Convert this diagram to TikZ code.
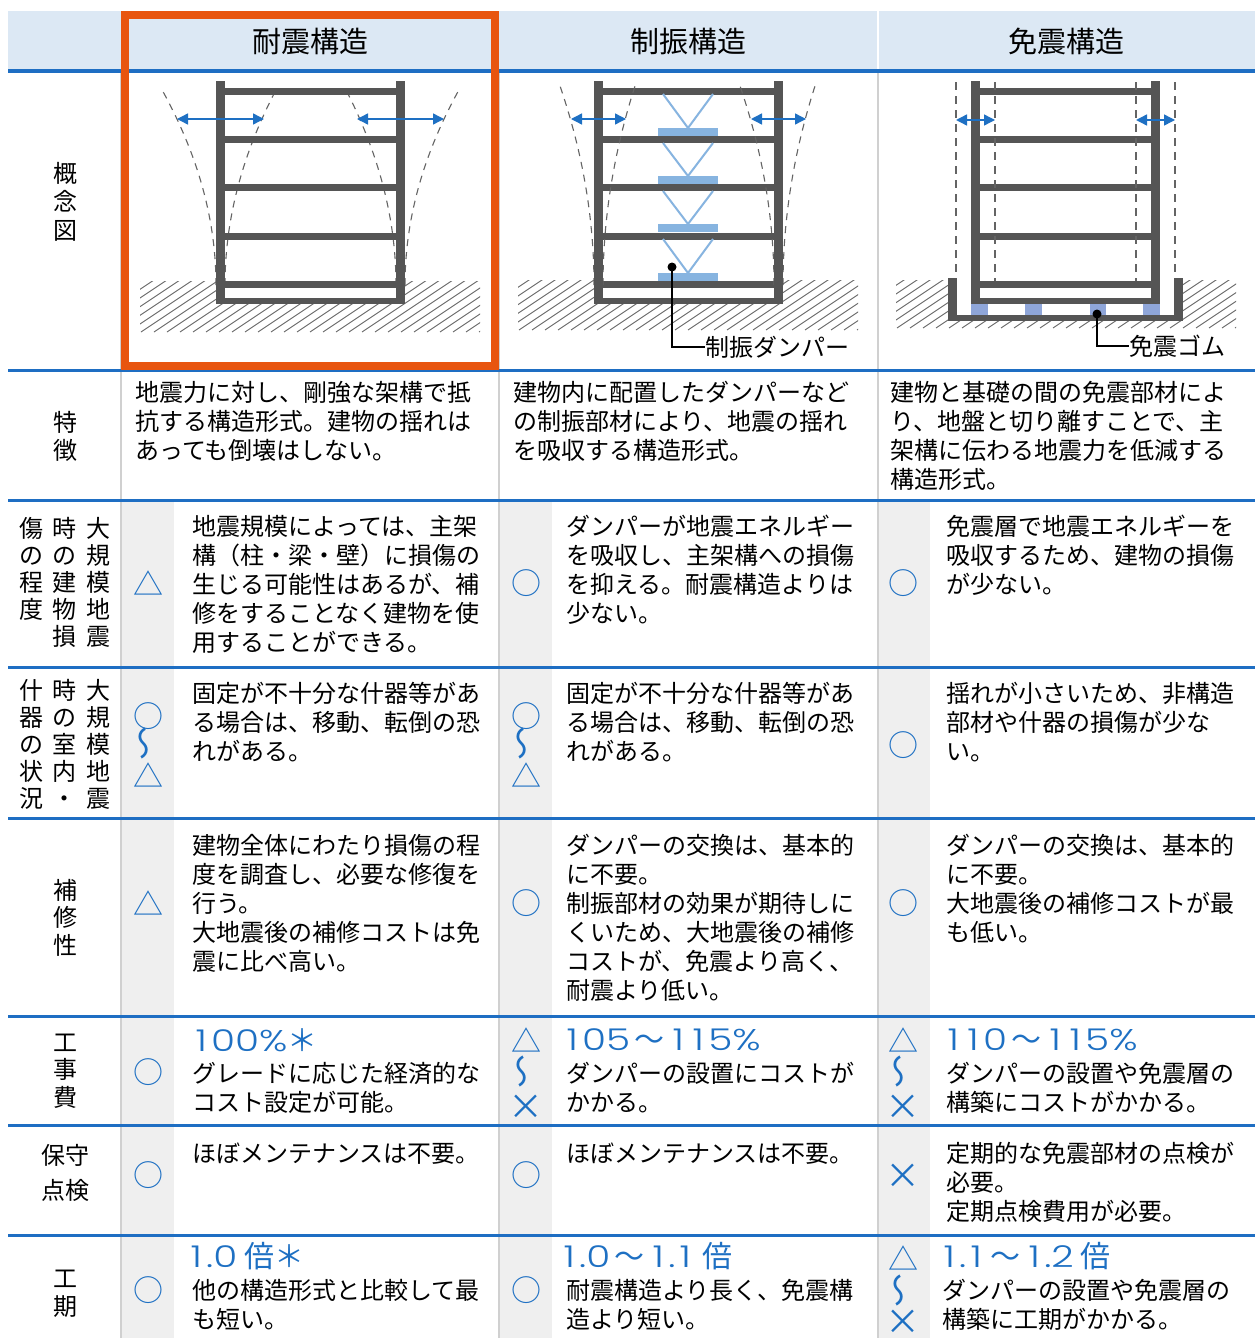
\documentclass[tikz,border=0pt]{standalone}
\usepackage{fontspec}
\setmainfont{Noto Sans CJK JP}
\IfFontExistsTF{Poppins Light}{\newfontfamily\numfont{Poppins Light}[Numbers=Monospaced,FakeStretch=1.3]}{\newfontfamily\numfont{Poppins}[Numbers=Monospaced,FakeStretch=1.3]}
\usetikzlibrary{arrows.meta}
\definecolor{hdr}{RGB}{220,232,244}
\definecolor{rulec}{RGB}{30,110,195}
\definecolor{symb}{RGB}{30,112,195}
\definecolor{graycol}{RGB}{239,239,239}
\definecolor{sepc}{RGB}{208,208,208}
\definecolor{framec}{RGB}{85,85,85}
\definecolor{damp}{RGB}{135,180,224}
\definecolor{rubber}{RGB}{143,166,217}
\definecolor{orng}{RGB}{232,85,15}
\definecolor{dashc}{RGB}{100,100,100}
\newcommand\st{\rule{0pt}{21pt}}
\newcommand\one{\makebox[20pt][c]{1}}
\newcommand\wv{\makebox[38pt][c]{～}}
\begin{document}
\begin{tikzpicture}[x=1pt,y=-1pt,
  body/.style={anchor=north west,inner sep=0pt,align=left,font=\fontsize{24}{29}\selectfont},
  lab/.style={anchor=north,inner sep=0pt,align=center,font=\fontsize{24}{27.5}\selectfont},
  symtxt/.style={inner sep=0pt,text=symb,font=\fontsize{30}{30}\selectfont},
  crosstxt/.style={inner sep=0pt,text=symb,font=\fontsize{35}{35}\selectfont},
  wavtxt/.style={inner sep=0pt,text=symb,font=\fontsize{34}{34}\selectfont,rotate=-90,yscale=-1},
  bigtxt/.style={anchor=west,inner sep=0pt,text=symb,font=\fontsize{30}{30}\selectfont},
  hdtxt/.style={inner sep=0pt,font=\fontsize{29}{29}\selectfont},
  leadtxt/.style={anchor=west,inner sep=0pt,font=\fontsize{24}{24}\selectfont},
  beamfill/.style={fill=framec},
  hatchln/.style={draw=dashc,line width=0.9pt},
  defl/.style={draw=dashc,line width=1.1pt,dash pattern=on 7pt off 6pt},
  swing/.style={draw=symb,line width=1.4pt,{Triangle[length=11pt,width=11pt]}-{Triangle[length=11pt,width=11pt]}},
  dbrace/.style={draw=damp,line width=2pt},
  leader/.style={draw=black,line width=1.1pt},
  rulel/.style={draw=rulec,line width=3pt},
  sepl/.style={draw=sepc,line width=2.5pt}
]
\useasboundingbox (0,0) rectangle (1255,1338);
\fill[white] (0,0) rectangle (1255,1338);
% header
\fill[hdr] (8,11) rectangle (1255,71);
\draw[white,line width=2pt] (878,11) -- (878,71);
% gray symbol columns
\fill[graycol] (121,500) rectangle (174,1338);
\fill[graycol] (499,500) rectangle (552,1338);
\fill[graycol] (878,500) rectangle (930,1338);
% separators
\draw[sepl] (121,71) -- (121,1338);
\draw[sepl] (499,71) -- (499,1338);
\draw[sepl] (878,71) -- (878,1338);
% blue rules
\foreach \yy in {71,370,500,667,818,1016,1125,1235} {\draw[rulel] (8,\yy) -- (1255,\yy);}

% ---------- hatching ----------
\begin{scope}
\clip (140,281) rectangle (480,332);
\foreach \k in {0,...,34} {\draw[hatchln] ({50+13*\k},332) -- ++(90,-60);}
\end{scope}
\begin{scope}
\clip (518,280) rectangle (858,330);
\foreach \k in {0,...,34} {\draw[hatchln] ({428+13*\k},330) -- ++(90,-60);}
\end{scope}
\begin{scope}
\clip (896,280) rectangle (1236,328);
\foreach \k in {0,...,34} {\draw[hatchln] ({806+13*\k},328) -- ++(90,-60);}
\end{scope}
\fill[white] (216,279) rectangle (405,304);
\fill[white] (594,279) rectangle (783,304);
\fill[white] (957,276) rectangle (1174,315);

% ---------- column 1: 耐震 ----------
\draw[defl] (216,285) .. controls (216,219.3) and (197.7,153.7) .. (161,88);
\draw[defl] (225,285) .. controls (225,219.3) and (242.3,153.7) .. (277,88);
\draw[defl] (396,285) .. controls (396,219.3) and (379,153.7) .. (345,88);
\draw[defl] (405,285) .. controls (405,219.3) and (423.3,153.7) .. (460,88);
\foreach \ox in {0,378,755} {
  \begin{scope}[xshift=\ox pt]
  \fill[beamfill] (216,81) rectangle (225,304);
  \fill[beamfill] (396,81) rectangle (405,304);
  \foreach \by in {88,136,184,233,281} {\fill[beamfill] (225,\by) rectangle (396,\by+6.8);}
  \fill[beamfill] (216,298) rectangle (405,304);
  \end{scope}
}
\coordinate (a1l) at (177,119); \coordinate (a1r) at (264,119);
\coordinate (a2l) at (357,119); \coordinate (a2r) at (444,119);
\draw[swing] (a1l) -- (a1r);
\draw[swing] (a2l) -- (a2r);

% ---------- column 2: 制振 ----------
\draw[defl] (594,285) .. controls (594,218.7) and (582.7,152.3) .. (560,86);
\draw[defl] (603,285) .. controls (603,218.7) and (613.7,152.3) .. (635,86);
\draw[defl] (774,285) .. controls (774,218.7) and (762.7,152.3) .. (740,86);
\draw[defl] (783,285) .. controls (783,218.7) and (793.7,152.3) .. (815,86);
\fill[beamfill] (594,81) rectangle (603,304);
\fill[beamfill] (774,81) rectangle (783,304);
\foreach \tb/\dt in {94/128,143/176,191/224,239/273} {
  \draw[dbrace] (663,\tb) -- (688,\dt) -- (713,\tb);
  \fill[damp] (658,\dt) rectangle (718,\dt+8);
}
\coordinate (b1l) at (571,119); \coordinate (b1r) at (626,119);
\coordinate (b2l) at (751,119); \coordinate (b2r) at (806,119);
\draw[swing] (b1l) -- (b1r);
\draw[swing] (b2l) -- (b2r);
\coordinate (dm) at (672,267);
\node[leadtxt] (dlab) at (705,347) {制振ダンパー};
\draw[leader] (dm) |- (dlab.west);
\fill[black] (dm) circle (4.5);

% ---------- column 3: 免震 ----------
\foreach \bx/\ex in {971/988,1025/1042,1090/1106,1143/1160} {\fill[rubber] (\bx,304) rectangle (\ex,315);}
\fill[beamfill] (948,278) rectangle (957,321);
\fill[beamfill] (1174,278) rectangle (1183,321);
\fill[beamfill] (948,315) rectangle (1183,321);
\draw[defl,dash pattern=on 8pt off 6pt] (956,82) -- (956,278);
\draw[defl,dash pattern=on 8pt off 6pt] (995,82) -- (995,281);
\draw[defl,dash pattern=on 8pt off 6pt] (1136,82) -- (1136,281);
\draw[defl,dash pattern=on 8pt off 6pt] (1175,82) -- (1175,278);
\coordinate (c1l) at (956,120); \coordinate (c1r) at (995,120);
\coordinate (c2l) at (1136,120); \coordinate (c2r) at (1175,120);
\draw[swing] (c1l) -- (c1r);
\draw[swing] (c2l) -- (c2r);
\coordinate (gm) at (1097,314);
\node[leadtxt] (glab) at (1129,346) {免震ゴム};
\draw[leader] (gm) |- (glab.west);
\fill[black] (gm) circle (4.5);

% orange highlight
\draw[orng,line width=8pt] (125,15) rectangle (495,366);

% ---------- header texts ----------
\node[hdtxt] (h1) at (310,41) {耐震構造};
\node[hdtxt] (h2) at (688,41) {制振構造};
\node[hdtxt] (h3) at (1066,41) {免震構造};

% ---------- row labels ----------
\node[lab,font=\fontsize{24}{28.5}\selectfont] (l1) at (65,161) {\st 概\\念\\図};
\node[lab,font=\fontsize{24}{28}\selectfont] (l2) at (65,410) {\st 特\\徴};
\node[lab,font=\fontsize{24}{27}\selectfont] (l3a) at (98,516) {\st 大\\規\\模\\地\\震};
\node[lab,font=\fontsize{24}{27}\selectfont] (l3b) at (64,516) {\st 時\\の\\建\\物\\損};
\node[lab,font=\fontsize{24}{27}\selectfont] (l3c) at (31,516) {\st 傷\\の\\程\\度};
\node[lab,font=\fontsize{24}{27}\selectfont] (l4a) at (98,678) {\st 大\\規\\模\\地\\震};
\node[lab,font=\fontsize{24}{27}\selectfont] (l4b) at (64,678) {\st 時\\の\\室\\内\\・};
\node[lab,font=\fontsize{24}{27}\selectfont] (l4c) at (31,678) {\st 什\\器\\の\\状\\況};
\node[lab] (l5) at (65,878) {\st 補\\修\\性};
\node[lab] (l6) at (65,1030) {\st 工\\事\\費};
\node[lab,font=\fontsize{24}{35}\selectfont] (l7) at (65,1143) {\st 保守\\点検};
\node[lab,font=\fontsize{24}{28}\selectfont] (l8) at (65,1266) {\st 工\\期};

% ---------- 特徴 ----------
\node[body] (f1) at (135,380) {\st 地震力に対し、剛強な架構で抵\\抗する構造形式。建物の揺れは\\あっても倒壊はしない。};
\node[body] (f2) at (513,380) {\st 建物内に配置したダンパーなど\\の制振部材により、地震の揺れ\\を吸収する構造形式。};
\node[body] (f3) at (890,380) {\st 建物と基礎の間の免震部材によ\\り、地盤と切り離すことで、主\\架構に伝わる地震力を低減する\\構造形式。};

% ---------- 損傷 ----------
\node[symtxt] (y31) at (148,583) {△};
\node[symtxt] (y32) at (526,583) {○};
\node[symtxt] (y33) at (903,583) {○};
\node[body] (d1) at (192,514) {\st 地震規模によっては、主架\\構（柱・梁・壁）に損傷の\\生じる可能性はあるが、補\\修をすることなく建物を使\\用することができる。};
\node[body] (d2) at (566,514) {\st ダンパーが地震エネルギー\\を吸収し、主架構への損傷\\を抑える。耐震構造よりは\\少ない。};
\node[body] (d3) at (946,514) {\st 免震層で地震エネルギーを\\吸収するため、建物の損傷\\が少ない。};

% ---------- 室内 ----------
\node[symtxt] (y41a) at (148,716) {○};
\node[wavtxt] (y41b) at (148,743) {～};
\node[symtxt] (y41c) at (148,775) {△};
\node[symtxt] (y42a) at (526,716) {○};
\node[wavtxt] (y42b) at (526,743) {～};
\node[symtxt] (y42c) at (526,775) {△};
\node[symtxt] (y43) at (903,745) {○};
\node[body] (s1) at (192,681) {\st 固定が不十分な什器等があ\\る場合は、移動、転倒の恐\\れがある。};
\node[body] (s2) at (566,681) {\st 固定が不十分な什器等があ\\る場合は、移動、転倒の恐\\れがある。};
\node[body] (s3) at (946,681) {\st 揺れが小さいため、非構造\\部材や什器の損傷が少な\\い。};

% ---------- 補修性 ----------
\node[symtxt] (y51) at (148,903) {△};
\node[symtxt] (y52) at (526,903) {○};
\node[symtxt] (y53) at (903,903) {○};
\node[body] (r1) at (192,833) {\st 建物全体にわたり損傷の程\\度を調査し、必要な修復を\\行う。\\大地震後の補修コストは免\\震に比べ高い。};
\node[body] (r2) at (566,833) {\st ダンパーの交換は、基本的\\に不要。\\制振部材の効果が期待しに\\くいため、大地震後の補修\\コストが、免震より高く、\\耐震より低い。};
\node[body] (r3) at (946,833) {\st ダンパーの交換は、基本的\\に不要。\\大地震後の補修コストが最\\も低い。};

% ---------- 工事費 ----------
\node[symtxt] (y61) at (148,1072) {○};
\node[symtxt] (y62a) at (526,1040) {△};
\node[wavtxt] (y62b) at (526,1071) {～};
\node[crosstxt] (y62c) at (526,1107) {×};
\node[symtxt] (y63a) at (903,1040) {△};
\node[wavtxt] (y63b) at (903,1071) {～};
\node[crosstxt] (y63c) at (903,1107) {×};
\node[bigtxt] (b1) at (191,1040) {{\numfont\one 00\%}＊};
\node[bigtxt] (b2) at (562,1040) {{\numfont\one 05}\wv{\numfont\one\one 5\%}};
\node[bigtxt] (b3) at (943,1040) {{\numfont\one\one 0}\wv{\numfont\one\one 5\%}};
\node[body] (c1) at (192,1061) {\st グレードに応じた経済的な\\コスト設定が可能。};
\node[body] (c2) at (566,1061) {\st ダンパーの設置にコストが\\かかる。};
\node[body] (c3) at (946,1061) {\st ダンパーの設置や免震層の\\構築にコストがかかる。};

% ---------- 保守点検 ----------
\node[symtxt] (y71) at (148,1175) {○};
\node[symtxt] (y72) at (526,1175) {○};
\node[crosstxt] (y73) at (903,1176) {×};
\node[body] (m1) at (192,1141) {\st ほぼメンテナンスは不要。};
\node[body] (m2) at (566,1141) {\st ほぼメンテナンスは不要。};
\node[body] (m3) at (946,1141) {\st 定期的な免震部材の点検が\\必要。\\定期点検費用が必要。};

% ---------- 工期 ----------
\node[symtxt] (y81) at (148,1290) {○};
\node[symtxt] (y82) at (526,1290) {○};
\node[symtxt] (y83a) at (903,1258) {△};
\node[wavtxt] (y83b) at (903,1290) {～};
\node[crosstxt] (y83c) at (903,1322) {×};
\node[bigtxt] (p1) at (186,1256) {{\numfont\one.0} 倍＊};
\node[bigtxt] (p2) at (559,1256) {{\numfont\one.0}\wv{\numfont\one.\one} 倍};
\node[bigtxt] (p3) at (939,1256) {{\numfont\one.\one}\wv{\numfont\one.2} 倍};
\node[body] (q1) at (192,1278) {\st 他の構造形式と比較して最\\も短い。};
\node[body] (q2) at (566,1278) {\st 耐震構造より長く、免震構\\造より短い。};
\node[body] (q3) at (942,1278) {\st ダンパーの設置や免震層の\\構築に工期がかかる。};
\end{tikzpicture}
\end{document}
